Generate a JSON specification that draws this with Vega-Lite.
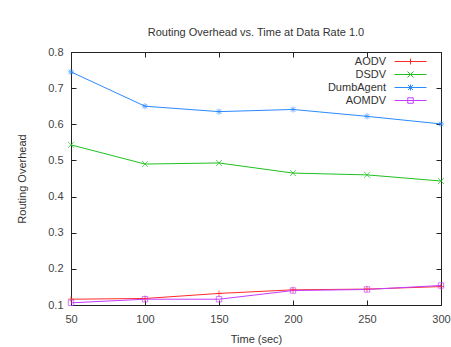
{
  "$schema": "https://vega.github.io/schema/vega-lite/v6.json",
  "width": 370,
  "height": 253,
  "autosize": {"type": "none"},
  "padding": {"left": 71, "top": 52, "right": 10, "bottom": 42},
  "background": "white",
  "title": {"text": "Routing Overhead vs. Time at Data Rate 1.0", "font": "Liberation Sans", "fontSize": 11, "fontWeight": "normal", "color": "#333333", "offset": 8},
  "config": {
    "view": {"stroke": "#222222", "strokeWidth": 1},
    "axis": {"labelFont": "Liberation Sans", "labelFontSize": 11, "labelColor": "#444444", "titleFont": "Liberation Sans", "titleFontSize": 11, "titleFontWeight": "normal", "titleColor": "#333333", "grid": false, "domain": false, "tickColor": "#222222", "tickSize": -5, "labelPadding": 13, "labelFlush": false},
    "legend": {"labelFont": "Liberation Sans", "labelFontSize": 11, "labelColor": "#333333"}
  },
  "data": {"values": [
    {"time": 50, "protocol": "AODV", "marker": "plus", "overhead": 0.116},
    {"time": 100, "protocol": "AODV", "marker": "plus", "overhead": 0.118},
    {"time": 150, "protocol": "AODV", "marker": "plus", "overhead": 0.132},
    {"time": 200, "protocol": "AODV", "marker": "plus", "overhead": 0.142},
    {"time": 250, "protocol": "AODV", "marker": "plus", "overhead": 0.144},
    {"time": 300, "protocol": "AODV", "marker": "plus", "overhead": 0.151},
    {"time": 50, "protocol": "DSDV", "marker": "cross", "overhead": 0.543},
    {"time": 100, "protocol": "DSDV", "marker": "cross", "overhead": 0.490},
    {"time": 150, "protocol": "DSDV", "marker": "cross", "overhead": 0.493},
    {"time": 200, "protocol": "DSDV", "marker": "cross", "overhead": 0.465},
    {"time": 250, "protocol": "DSDV", "marker": "cross", "overhead": 0.460},
    {"time": 300, "protocol": "DSDV", "marker": "cross", "overhead": 0.443},
    {"time": 50, "protocol": "DumbAgent", "marker": "star", "overhead": 0.745},
    {"time": 100, "protocol": "DumbAgent", "marker": "star", "overhead": 0.650},
    {"time": 150, "protocol": "DumbAgent", "marker": "star", "overhead": 0.635},
    {"time": 200, "protocol": "DumbAgent", "marker": "star", "overhead": 0.641},
    {"time": 250, "protocol": "DumbAgent", "marker": "star", "overhead": 0.622},
    {"time": 300, "protocol": "DumbAgent", "marker": "star", "overhead": 0.601},
    {"time": 50, "protocol": "AOMDV", "marker": "box", "overhead": 0.106},
    {"time": 100, "protocol": "AOMDV", "marker": "box", "overhead": 0.116},
    {"time": 150, "protocol": "AOMDV", "marker": "box", "overhead": 0.116},
    {"time": 200, "protocol": "AOMDV", "marker": "box", "overhead": 0.140},
    {"time": 250, "protocol": "AOMDV", "marker": "box", "overhead": 0.143},
    {"time": 300, "protocol": "AOMDV", "marker": "box", "overhead": 0.154}
  ]},
  "resolve": {"axis": {"x": "independent", "y": "independent"}},
  "layer": [
    {"mark": {"type": "line", "strokeWidth": 1},
     "encoding": {
       "x": {"field": "time", "type": "quantitative", "scale": {"domain": [50, 300], "nice": false, "zero": false},
             "axis": {"values": [50, 100, 150, 200, 250, 300], "title": "Time (sec)", "titlePadding": 9}},
       "y": {"field": "overhead", "type": "quantitative", "scale": {"domain": [0.1, 0.8], "nice": false, "zero": false},
             "axis": {"values": [0.1, 0.2, 0.3, 0.4, 0.5, 0.6, 0.7, 0.8], "format": ".1f", "title": "Routing Overhead", "titlePadding": 20}},
       "color": {"field": "protocol", "type": "nominal",
                 "scale": {"domain": ["AODV", "DSDV", "DumbAgent", "AOMDV"], "range": ["#ff2a2a", "#1fc01f", "#2a8aff", "#c43cff"]},
                 "legend": {"title": null, "orient": "none", "legendX": 334, "legendY": 4, "labelAlign": "right", "labelOffset": -30, "rowPadding": 1, "symbolSize": 100, "padding": 0, "symbolStrokeWidth": 1, "symbolFillColor": "transparent",
                            "encode": {"symbols": {"update": {
                              "shape": {"signal": "datum.value === 'AODV' ? 'M-3.2,0L3.2,0M0,-0.6L0,0.6' : datum.value === 'DSDV' ? 'M-3.2,0L3.2,0M-0.6,-0.6L0.6,0.6M-0.6,0.6L0.6,-0.6' : datum.value === 'DumbAgent' ? 'M-3.2,0L3.2,0M0,-0.6L0,0.6M-0.5,-0.5L0.5,0.5M-0.5,0.5L0.5,-0.5' : 'M-3.2,0L3.2,0M-0.55,-0.55L0.55,-0.55L0.55,0.55L-0.55,0.55Z'"},
                              "size": {"value": 100},
                              "strokeWidth": {"value": 1},
                              "stroke": {"scale": "color", "field": "value"},
                              "fill": {"value": "transparent"}}}}}}
     }},
    {"mark": {"type": "point", "filled": false, "strokeWidth": 1, "size": 36},
     "encoding": {
       "x": {"field": "time", "type": "quantitative",
             "axis": {"orient": "top", "values": [50, 100, 150, 200, 250, 300], "labels": false, "title": null}},
       "y": {"field": "overhead", "type": "quantitative",
             "axis": {"orient": "right", "values": [0.1, 0.2, 0.3, 0.4, 0.5, 0.6, 0.7, 0.8], "labels": false, "title": null}},
       "color": {"field": "protocol", "type": "nominal"},
       "shape": {"field": "marker", "type": "nominal", "legend": null,
                 "scale": {"domain": ["plus", "cross", "star", "box"],
                           "range": ["M-1,0L1,0M0,-1L0,1", "M-1,-1L1,1M-1,1L1,-1", "M-1,0L1,0M0,-1L0,1M-0.75,-0.75L0.75,0.75M-0.75,0.75L0.75,-0.75", "M-0.9,-0.9L0.9,-0.9L0.9,0.9L-0.9,0.9Z"]}}
     }}
  ]
}
